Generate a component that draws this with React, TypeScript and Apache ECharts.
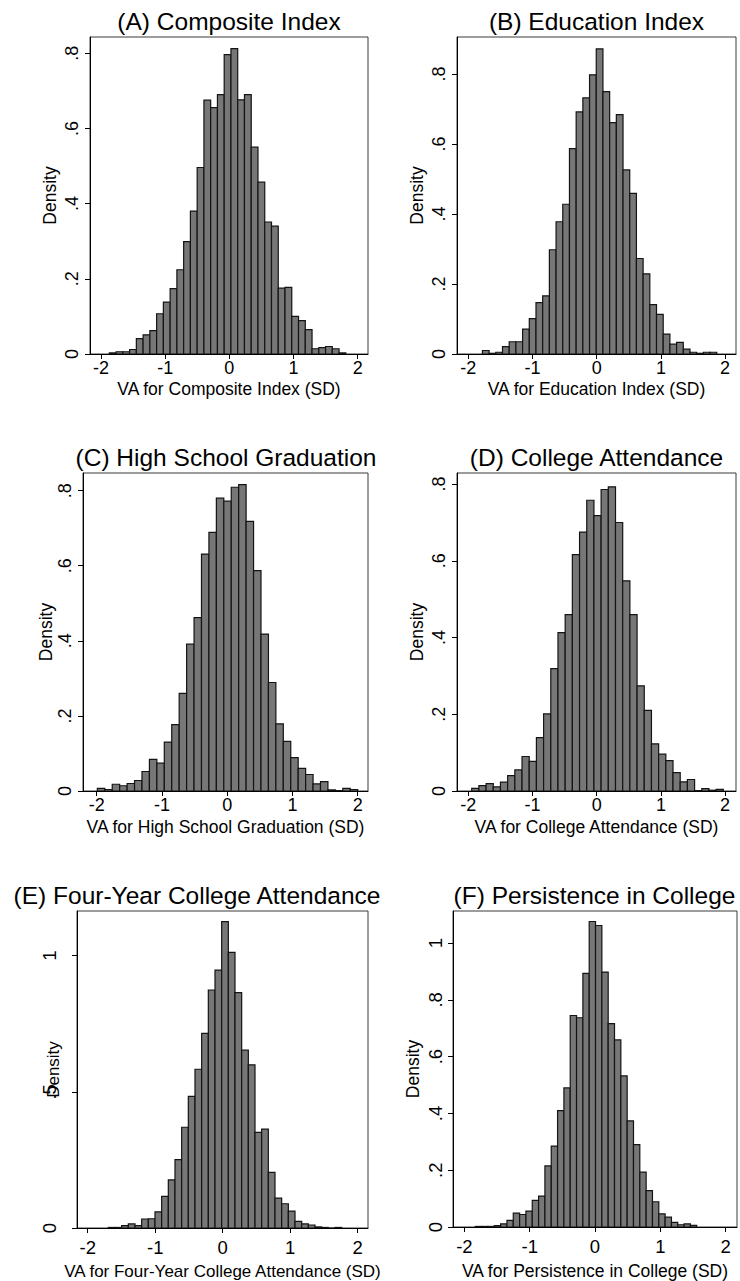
import React, { useEffect, useRef } from "react";
import * as echarts from "echarts";

// ---------- Data ----------
const panelTitles = [
  "(A) Composite Index",
  "(B) Education Index",
  "(C) High School Graduation",
  "(D) College Attendance",
  "(E) Four-Year College Attendance",
  "(F) Persistence in College",
];
const xAxisTitles = [
  "VA for Composite Index (SD)",
  "VA for Education Index (SD)",
  "VA for High School Graduation (SD)",
  "VA for College Attendance (SD)",
  "VA for Four-Year College Attendance (SD)",
  "VA for Persistence in College (SD)",
];
const yAxisTitle = "Density";
const xTicks = [-2, -1, 0, 1, 2];
const yTicksA = [0, 0.2, 0.4, 0.6, 0.8];
const yTicksB = [0, 0.2, 0.4, 0.6, 0.8];
const yTicksC = [0, 0.2, 0.4, 0.6, 0.8];
const yTicksD = [0, 0.2, 0.4, 0.6, 0.8];
const yTicksE = [0, 0.5, 1];
const yTicksF = [0, 0.2, 0.4, 0.6, 0.8, 1];

// histogram bins: first bin edge, bin width, densities (35 bins each)
const binStartA = -1.87;
const binWidthA = 0.1053;
const densityA = [
  0.003, 0.006, 0.006, 0.012, 0.041, 0.051, 0.062, 0.107, 0.138, 0.174, 0.224, 0.299,
  0.38, 0.496, 0.675, 0.655, 0.69, 0.796, 0.812, 0.676, 0.69, 0.55, 0.457, 0.351,
  0.34, 0.175, 0.177, 0.1, 0.089, 0.065, 0.014, 0.017, 0.02, 0.014, 0.003,
];
const binStartB = -1.78;
const binWidthB = 0.1043;
const densityB = [
  0.01, 0.002, 0.005, 0.021, 0.035, 0.035, 0.071, 0.101, 0.147, 0.166, 0.298, 0.378,
  0.428, 0.587, 0.692, 0.732, 0.798, 0.872, 0.75, 0.661, 0.684, 0.526, 0.459, 0.273,
  0.229, 0.141, 0.113, 0.057, 0.028, 0.033, 0.014, 0.005, 0.002, 0.005, 0.005,
];
const binStartC = -1.99;
const binWidthC = 0.114;
const densityC = [
  0.007, 0.004, 0.018, 0.014, 0.02, 0.028, 0.052, 0.084, 0.074, 0.13, 0.177, 0.26,
  0.391, 0.462, 0.631, 0.689, 0.78, 0.772, 0.809, 0.816, 0.718, 0.587, 0.418, 0.289,
  0.179, 0.132, 0.089, 0.06, 0.044, 0.019, 0.025, 0.003, 0.001, 0.007, 0.004,
];
const binStartD = -1.947;
const binWidthD = 0.112;
const densityD = [
  0.007, 0.014, 0.019, 0.011, 0.023, 0.04, 0.055, 0.09, 0.077, 0.139, 0.201, 0.319,
  0.413, 0.46, 0.616, 0.675, 0.758, 0.718, 0.786, 0.793, 0.7, 0.548, 0.46, 0.274,
  0.21, 0.123, 0.096, 0.079, 0.048, 0.024, 0.03, 0.001, 0.006, 0.002, 0.004,
];
const binStartE = -1.695;
const binWidthE = 0.0988;
const densityE = [
  0.002, 0.002, 0.009, 0.015, 0.009, 0.033, 0.034, 0.059, 0.116, 0.177, 0.251, 0.37,
  0.483, 0.583, 0.715, 0.874, 0.947, 1.125, 1.012, 0.864, 0.653, 0.599, 0.351, 0.363,
  0.204, 0.11, 0.089, 0.062, 0.024, 0.015, 0.011, 0.004, 0.002, 0.0, 0.002,
];
const binStartF = -1.833;
const binWidthF = 0.0969;
const densityF = [
  0.002, 0.002, 0.002, 0.005, 0.011, 0.023, 0.049, 0.044, 0.056, 0.094, 0.109, 0.215,
  0.285, 0.41, 0.49, 0.745, 0.737, 0.893, 1.076, 1.062, 0.898, 0.716, 0.659, 0.532,
  0.374, 0.29, 0.193, 0.128, 0.089, 0.046, 0.035, 0.016, 0.008, 0.011, 0.006,
];

// ---------- Layout (positions / ranges / label offsets) ----------
const layouts = [
  { left: 90, top: 37, width: 278, height: 317, xMin: -2.171, xMax: 2.161, yMax: 0.843, titleX: 229, titleY: 21.5, xlm: 5, xng: 26, ylm: 9, yng: 31, fs: 18, nfs: 17.5 },
  { left: 457, top: 37, width: 279, height: 317, xMin: -2.176, xMax: 2.17, yMax: 0.906, titleX: 596.5, titleY: 21.5, xlm: 5, xng: 26, ylm: 9, yng: 31, fs: 18, nfs: 17.5 },
  { left: 83, top: 473, width: 285, height: 318, xMin: -2.21, xMax: 2.158, yMax: 0.847, titleX: 226, titleY: 457.5, xlm: 5, xng: 27, ylm: 9, yng: 28, fs: 18, nfs: 17.5 },
  { left: 457, top: 473, width: 279, height: 318, xMin: -2.176, xMax: 2.17, yMax: 0.829, titleX: 596.5, titleY: 457.5, xlm: 5, xng: 27, ylm: 9, yng: 31, fs: 18, nfs: 17.5 },
  { left: 77, top: 911, width: 291, height: 317, xMin: -2.159, xMax: 2.153, yMax: 1.164, titleX: 197, titleY: 895.5, xlm: 10, xng: 35, ylm: 18, yng: 15, fs: 18.5, nfs: 17 },
  { left: 453, top: 911, width: 284, height: 317, xMin: -2.175, xMax: 2.175, yMax: 1.113, titleX: 594.5, titleY: 895.5, xlm: 10, xng: 35, ylm: 8, yng: 31, fs: 18.5, nfs: 17.5 },
];

const FONT = "'Liberation Sans', Arial, Helvetica, sans-serif";

const panelData = [
  { start: binStartA, w: binWidthA, dens: densityA, yTicks: yTicksA },
  { start: binStartB, w: binWidthB, dens: densityB, yTicks: yTicksB },
  { start: binStartC, w: binWidthC, dens: densityC, yTicks: yTicksC },
  { start: binStartD, w: binWidthD, dens: densityD, yTicks: yTicksD },
  { start: binStartE, w: binWidthE, dens: densityE, yTicks: yTicksE },
  { start: binStartF, w: binWidthF, dens: densityF, yTicks: yTicksF },
];

function fmtY(v: number): string {
  const r = Math.round(v * 10) / 10;
  if (r === 0) return "0";
  return String(r).replace(/^0\./, ".");
}

function buildOption() {
  const grid: any[] = [];
  const xAxis: any[] = [];
  const yAxis: any[] = [];
  const series: any[] = [];
  const graphic: any[] = [];

  panelData.forEach((p, i) => {
    const L = layouts[i];
    grid.push({ left: L.left, top: L.top, width: L.width, height: L.height, show: true, borderColor: "#3a3a3a", borderWidth: 1, containLabel: false });
    xAxis.push({
      gridIndex: i,
      type: "value",
      min: L.xMin,
      max: L.xMax,
      name: xAxisTitles[i],
      nameLocation: "middle",
      nameGap: L.xng,
      nameMoveOverlap: false,
      nameTextStyle: { color: "#000", fontFamily: FONT, fontSize: L.nfs },
      axisLine: { show: true, onZero: false, lineStyle: { color: "#000", width: 1 } },
      axisTick: { show: true, length: 5, customValues: xTicks, lineStyle: { color: "#000" } },
      axisLabel: { customValues: xTicks, margin: L.xlm, color: "#000", fontFamily: FONT, fontSize: L.fs, formatter: (v: number) => String(v) },
      splitLine: { show: false },
    });
    yAxis.push({
      gridIndex: i,
      type: "value",
      min: 0,
      max: L.yMax,
      name: yAxisTitle,
      nameLocation: "middle",
      nameRotate: 90,
      nameGap: L.yng,
      nameMoveOverlap: false,
      nameTextStyle: { color: "#000", fontFamily: FONT, fontSize: L.nfs },
      axisLine: { show: true, onZero: false, lineStyle: { color: "#000", width: 1 } },
      axisTick: { show: true, length: 5, customValues: p.yTicks, lineStyle: { color: "#000" } },
      axisLabel: { customValues: p.yTicks, rotate: 90, margin: L.ylm, color: "#000", fontFamily: FONT, fontSize: L.fs, formatter: fmtY },
      splitLine: { show: false },
    });
    const data = p.dens.map((d, k) => [p.start + k * p.w, p.start + (k + 1) * p.w, d]);
    series.push({
      type: "custom",
      xAxisIndex: i,
      yAxisIndex: i,
      data,
      encode: { x: [0, 1], y: 2 },
      clip: true,
      renderItem: (params: any, api: any) => {
        const x0 = api.value(0);
        const x1 = api.value(1);
        const y = api.value(2);
        const p0 = api.coord([x0, y]);
        const p1 = api.coord([x1, 0]);
        return {
          type: "rect",
          shape: { x: p0[0], y: p0[1], width: p1[0] - p0[0], height: p1[1] - p0[1] },
          style: { fill: "#777777", stroke: "#141414", lineWidth: 1.2 },
        };
      },
    });
    graphic.push({
      type: "text",
      x: L.titleX,
      y: L.titleY,
      style: { text: panelTitles[i], fill: "#000", font: `24.5px ${FONT}`, align: "center", verticalAlign: "middle" },
    });
  });

  return {
    animation: false,
    backgroundColor: "#ffffff",
    grid,
    xAxis,
    yAxis,
    series,
    graphic,
  };
}

export default function App() {
  const ref = useRef<HTMLDivElement>(null);
  useEffect(() => {
    if (!ref.current) return;
    const chart = echarts.init(ref.current, null, { renderer: "svg" });
    chart.setOption(buildOption() as any);
    return () => chart.dispose();
  }, []);
  return (
    <div
      ref={ref}
      style={{ position: "absolute", left: 0, top: 0, width: 740, height: 1281, background: "#fff" }}
    />
  );
}
